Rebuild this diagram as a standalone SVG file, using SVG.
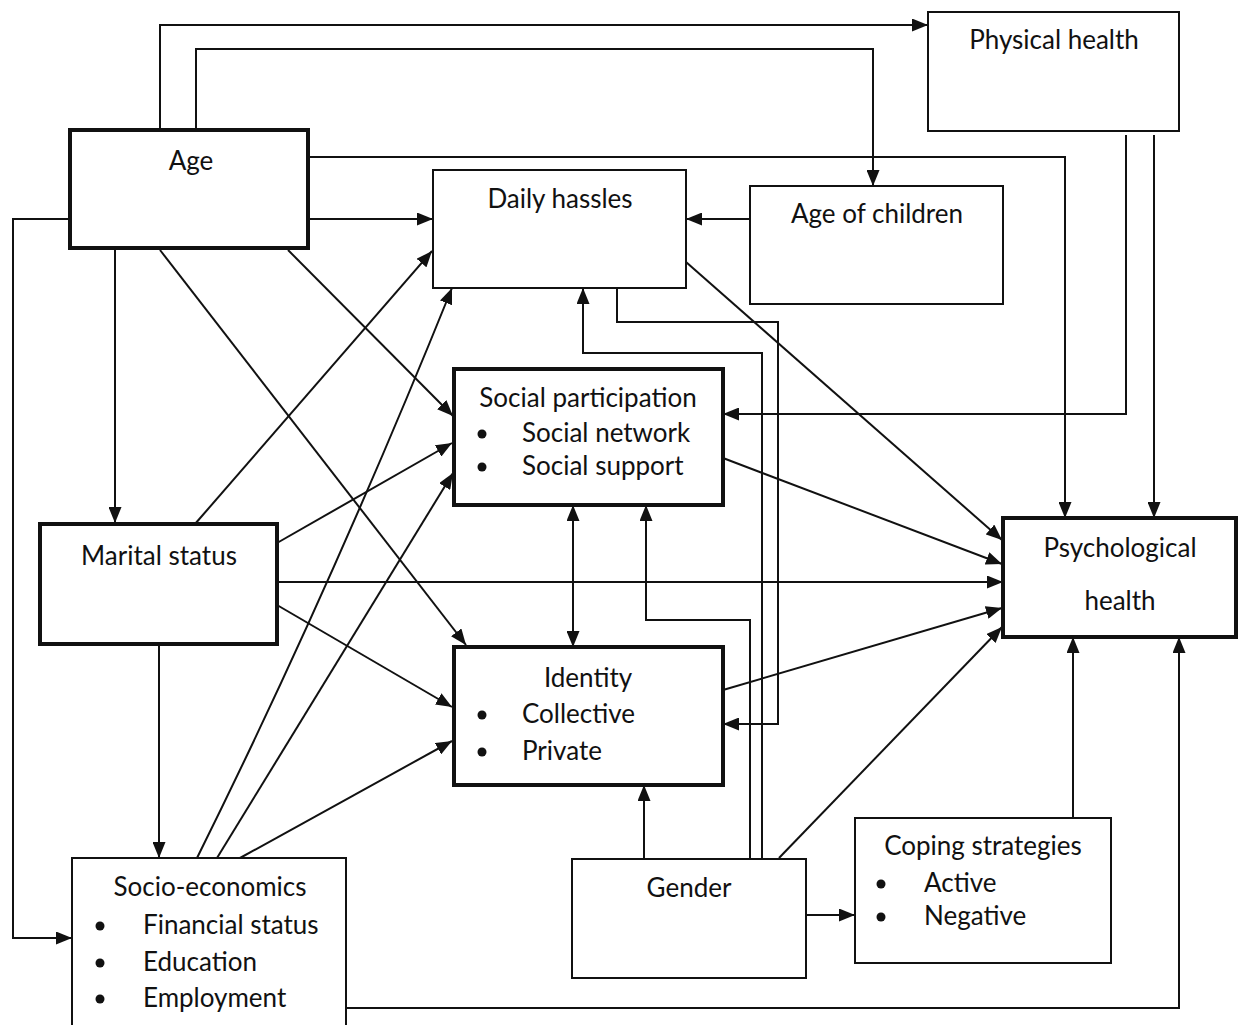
<svg xmlns="http://www.w3.org/2000/svg" width="1241" height="1025" viewBox="0 0 1241 1025">
  <style>
    .box { fill: #fff; stroke: #111; stroke-width: 2; }
    .thick { fill: #fff; stroke: #111; stroke-width: 4; }
    .lbl { font-family: Lato, "Open Sans", "Liberation Sans", sans-serif; font-size: 26px; fill: #111; }
    .mid { text-anchor: middle; }
    .dot { fill: #111; }
    .conn path { fill: none; stroke: #111; stroke-width: 2; }
    .arr { marker-end: url(#ah); }
    .both { marker-start: url(#ah); marker-end: url(#ah); }
  </style>
  <defs>
    <!-- solid triangular arrowhead shared by all connectors -->
    <marker id="ah" viewBox="0 0 16 13" refX="16" refY="6.5" markerWidth="16" markerHeight="13" markerUnits="userSpaceOnUse" orient="auto-start-reverse">
      <path d="M0,0 L16,6.5 L0,13 z" fill="#111"/>
    </marker>
  </defs>
  <rect width="1241" height="1025" fill="#fff"/>

  <!-- connectors -->
  <g id="connectors" class="conn">
    <path class="arr" d="M160,130 V25 H928"/>
    <path class="arr" d="M196,130 V49 H873 V186"/>
    <path class="arr" d="M308,157 H1065 V518"/>
    <path class="arr" d="M308,219 H433"/>
    <path class="arr" d="M115,248 V523"/>
    <path class="arr" d="M70,219 H13 V938 H72"/>
    <path class="arr" d="M288,250 L453,416"/>
    <path class="arr" d="M160,250 L466,645"/>
    <path class="arr" d="M195,524 L432,251"/>
    <path class="arr" d="M277,543 L452,443"/>
    <path class="arr" d="M277,582 H1003"/>
    <path class="arr" d="M277,605 L452,707"/>
    <path class="arr" d="M159,645 V858"/>
    <path class="arr" d="M197,858 Q330,590 452,288"/>
    <path class="arr" d="M217,858 L453,473"/>
    <path class="arr" d="M240,858 L452,741"/>
    <path class="arr" d="M346,1008 H1179 V637"/>
    <path class="arr" d="M750,219 H686"/>
    <path class="arr" d="M686,262 L1002,540"/>
    <path class="arr" d="M723,458 L1002,564"/>
    <path class="arr" d="M723,690 L1002,608"/>
    <path class="arr" d="M779,858 L1002,627"/>
    <path class="arr" d="M1126,135 V414 H723"/>
    <path class="arr" d="M1154,135 V518"/>
    <path class="arr" d="M762,859 V353 H583 V288"/>
    <path class="arr" d="M750,859 V620 H646 V505"/>
    <path class="arr" d="M617,288 V322 H778 V724 H723"/>
    <path class="arr" d="M644,859 V785"/>
    <path class="arr" d="M806,915 H855"/>
    <path class="arr" d="M1073,818 V637"/>
    <path class="both" d="M573,505 V647"/>
  </g>

  <!-- nodes -->
  <g id="physical-health">
    <rect class="box" x="928" y="12" width="251" height="119"/>
    <text class="lbl mid" x="1054" y="49">Physical health</text>
  </g>
  <g id="age">
    <rect class="thick" x="70" y="130" width="238" height="118"/>
    <text class="lbl mid" x="191" y="170">Age</text>
  </g>
  <g id="daily-hassles">
    <rect class="box" x="433" y="170" width="253" height="118"/>
    <text class="lbl mid" x="560" y="208">Daily hassles</text>
  </g>
  <g id="age-of-children">
    <rect class="box" x="750" y="186" width="253" height="118"/>
    <text class="lbl mid" x="877" y="223">Age of children</text>
  </g>
  <g id="social-participation">
    <rect class="thick" x="454" y="369" width="269" height="136"/>
    <text class="lbl mid" x="588" y="407">Social participation</text>
    <circle class="dot" cx="482" cy="434" r="4.5"/>
    <text class="lbl" x="522" y="442">Social network</text>
    <circle class="dot" cx="482" cy="467" r="4.5"/>
    <text class="lbl" x="522" y="475">Social support</text>
  </g>
  <g id="marital-status">
    <rect class="thick" x="40" y="524" width="237" height="120"/>
    <text class="lbl mid" x="159" y="565">Marital status</text>
  </g>
  <g id="identity">
    <rect class="thick" x="454" y="647" width="269" height="138"/>
    <text class="lbl mid" x="588" y="687">Identity</text>
    <circle class="dot" cx="482" cy="715" r="4.5"/>
    <text class="lbl" x="522" y="723">Collective</text>
    <circle class="dot" cx="482" cy="752" r="4.5"/>
    <text class="lbl" x="522" y="760">Private</text>
  </g>
  <g id="psychological-health">
    <rect class="thick" x="1003" y="518" width="233" height="119"/>
    <text class="lbl mid" x="1120" y="557">Psychological</text>
    <text class="lbl mid" x="1120" y="610">health</text>
  </g>
  <g id="socio-economics">
    <rect class="box" x="72" y="858" width="274" height="180"/>
    <text class="lbl mid" x="210" y="896">Socio-economics</text>
    <circle class="dot" cx="100" cy="926" r="4.5"/>
    <text class="lbl" x="143" y="934">Financial status</text>
    <circle class="dot" cx="100" cy="963" r="4.5"/>
    <text class="lbl" x="143" y="971">Education</text>
    <circle class="dot" cx="100" cy="999" r="4.5"/>
    <text class="lbl" x="143" y="1007">Employment</text>
  </g>
  <g id="gender">
    <rect class="box" x="572" y="859" width="234" height="119"/>
    <text class="lbl mid" x="689" y="897">Gender</text>
  </g>
  <g id="coping-strategies">
    <rect class="box" x="855" y="818" width="256" height="145"/>
    <text class="lbl mid" x="983" y="855">Coping strategies</text>
    <circle class="dot" cx="881" cy="884" r="4.5"/>
    <text class="lbl" x="924" y="892">Active</text>
    <circle class="dot" cx="881" cy="917" r="4.5"/>
    <text class="lbl" x="924" y="925">Negative</text>
  </g>
</svg>
